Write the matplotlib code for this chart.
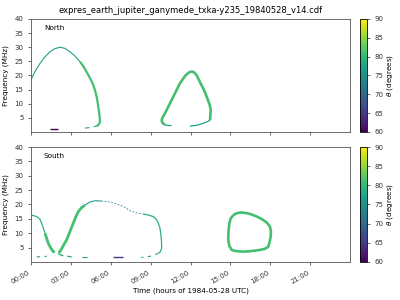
import numpy as np
import matplotlib
matplotlib.use("Agg")
import matplotlib.pyplot as plt
from matplotlib import cm, colors

# curves: time (hours UTC), frequency (MHz), theta (deg)
north_arc1_t = [0.0, 0.35, 0.68, 1.05, 1.43, 1.8, 2.18, 2.55, 2.93, 3.3, 3.69]
north_arc1_f = [18.6, 21.8, 24.3, 26.6, 28.4, 29.5, 30.0, 29.6, 28.4, 26.9, 24.9]
north_arc1_theta = 77
north_arc2_t = [3.69, 4.0, 4.31, 4.6, 4.81, 4.96, 5.06, 5.15, 5.19, 5.1, 4.94]
north_arc2_f = [24.9, 22.8, 20.2, 17.6, 14.9, 12.0, 9.0, 6.2, 3.7, 2.6, 2.1]
north_arc2_theta = 81
north_tail_t = [4.06, 4.31, 4.6, 4.94]
north_tail_f = [1.4, 1.5, 1.8, 2.1]
north_tail_theta = 77
north_low_t = [1.43, 2.05]
north_low_f = [1.2, 1.2]
north_low_theta = 60

north_loop_t = [10.08, 9.88, 9.83, 9.92, 10.08, 10.58, 11.2, 11.6, 11.85, 12.05,
                12.25, 12.45, 12.7, 13.0, 13.22, 13.45, 13.52, 13.47]
north_loop_f = [2.5, 3.3, 4.2, 5.4, 6.6, 11.3, 17.2, 19.9, 21.0, 21.4,
                21.2, 20.2, 17.8, 15.0, 12.5, 9.5, 7.8, 4.2]
north_loop_theta = 81
north_loop_bl_t = [10.08, 10.3, 10.58]
north_loop_bl_f = [2.5, 2.3, 2.3]
north_loop_br_t = [11.96, 12.5, 12.96, 13.25, 13.47]
north_loop_br_f = [2.1, 2.4, 3.1, 3.6, 4.2]
north_loop_low_theta = 77

south_a_t = [0.0, 0.3, 0.5, 0.68, 0.8, 0.93, 1.05]
south_a_f = [16.3, 16.0, 15.6, 14.8, 13.5, 11.8, 10.0]
south_a_theta = 79
south_a2_t = [1.05, 1.18, 1.3, 1.48, 1.68, 1.8]
south_a2_f = [10.0, 8.2, 6.5, 4.9, 3.6, 3.4]
south_a2_theta = 81
south_a_low_t = [0.43, 0.8, 1.18]
south_a_low_f = [1.8, 1.8, 2.0]
south_a_low_theta = 77

south_b_t = [2.05, 2.18, 2.42, 2.68, 2.93, 3.18, 3.38, 3.56, 3.8, 4.06]
south_b_f = [3.4, 3.6, 5.6, 7.7, 10.6, 13.5, 15.8, 17.5, 18.9, 19.8]
south_b_theta = 81
south_b_mid_t = [4.06, 4.4, 4.81, 5.3]
south_b_mid_f = [19.8, 20.8, 21.3, 21.2]
south_b_mid_theta = 76
south_b_top_t = [5.3, 5.9, 6.45, 7.0, 7.45, 8.0, 8.45]
south_b_top_f = [21.2, 20.9, 20.2, 19.2, 17.8, 17.0, 16.7]
south_b_top_theta = 73
south_b_right_t = [8.45, 8.85, 9.2, 9.42, 9.58, 9.7, 9.76, 9.82, 9.83, 9.7, 9.58]
south_b_right_f = [16.7, 16.3, 15.8, 14.9, 13.5, 11.8, 10.0, 7.0, 4.8, 3.4, 3.0]
south_b_right_theta = 79
south_b_rlow_t = [9.58, 9.08, 8.6, 8.3]
south_b_rlow_f = [3.0, 2.1, 1.7, 1.6]
south_b_rlow_theta = 77
south_b_low_t = [2.05, 2.3, 2.7, 3.06]
south_b_low_f = [3.0, 2.3, 2.0, 1.8]
south_b_low_theta = 79
south_dash_t = [3.8, 4.2]
south_dash_f = [1.6, 1.6]
south_dash_theta = 76
south_purple_t = [6.2, 6.9]
south_purple_f = [1.6, 1.6]
south_purple_theta = 65

south_loop_t = [15.22, 15.45, 15.72, 16.1, 16.48, 17.0, 17.48, 17.78, 17.98, 18.05,
                18.03, 17.95, 17.85, 17.6, 17.23, 16.6, 15.97, 15.4, 15.1, 14.92,
                14.84, 14.86, 14.92, 15.03, 15.22]
south_loop_f = [16.3, 16.9, 17.2, 17.1, 16.7, 15.8, 14.6, 13.5, 12.3, 10.6,
                8.8, 6.9, 5.3, 4.6, 4.2, 3.8, 3.6, 3.8, 4.2, 5.6,
                7.7, 10.6, 13.5, 15.2, 16.3]
south_loop_theta = 81

north_curves = [
    (north_arc1_t, north_arc1_f, north_arc1_theta, 0.8, '-'),
    (north_arc2_t, north_arc2_f, north_arc2_theta, 1.6, '-'),
    (north_tail_t, north_tail_f, north_tail_theta, 0.8, (0, (4, 4))),
    (north_low_t, north_low_f, north_low_theta, 1.0, '-'),
    (north_loop_t, north_loop_f, north_loop_theta, 1.9, '-'),
    (north_loop_bl_t, north_loop_bl_f, north_loop_low_theta, 0.9, '-'),
    (north_loop_br_t, north_loop_br_f, north_loop_low_theta, 0.9, '-'),
]
south_curves = [
    (south_a_t, south_a_f, south_a_theta, 0.9, '-'),
    (south_a2_t, south_a2_f, south_a2_theta, 2.0, '-'),
    (south_a_low_t, south_a_low_f, south_a_low_theta, 0.8, (0, (3, 4))),
    (south_b_t, south_b_f, south_b_theta, 2.0, '-'),
    (south_b_mid_t, south_b_mid_f, south_b_mid_theta, 0.8, '-'),
    (south_b_top_t, south_b_top_f, south_b_top_theta, 0.6, (0, (2, 2))),
    (south_b_right_t, south_b_right_f, south_b_right_theta, 0.9, '-'),
    (south_b_rlow_t, south_b_rlow_f, south_b_rlow_theta, 0.8, (0, (3, 4))),
    (south_b_low_t, south_b_low_f, south_b_low_theta, 1.0, (0, (4, 3))),
    (south_dash_t, south_dash_f, south_dash_theta, 0.8, '-'),
    (south_purple_t, south_purple_f, south_purple_theta, 1.0, '-'),
    (south_loop_t, south_loop_f, south_loop_theta, 1.9, '-'),
]

xticks = [0, 3, 6, 9, 12, 15, 18, 21]
xlabels = ['00:00', '03:00', '06:00', '09:00', '12:00', '15:00', '18:00', '21:00']
yticks = [5, 10, 15, 20, 25, 30, 35, 40]

norm = colors.Normalize(vmin=60, vmax=90)
cmap = plt.get_cmap('viridis')

fig = plt.figure(figsize=(4, 3), dpi=100)
ax_n = fig.add_axes([0.0775, 0.56, 0.7975, 0.3767])
ax_s = fig.add_axes([0.0775, 0.1267, 0.7975, 0.3833])
cax_n = fig.add_axes([0.9, 0.56, 0.0175, 0.3767])
cax_s = fig.add_axes([0.9, 0.1267, 0.0175, 0.3833])

for ax, curves, name in [(ax_n, north_curves, 'North'), (ax_s, south_curves, 'South')]:
    for t, f, th, lw, ls in curves:
        ax.plot(t, f, color=cmap(norm(th)), lw=lw, ls=ls, solid_capstyle='butt',
                solid_joinstyle='round')
    ax.set_xlim(0, 24)
    ax.set_ylim(0, 40)
    ax.set_yticks(yticks)
    ax.set_xticks(xticks)
    ax.tick_params(labelsize=5, length=2, width=0.5, colors='#333333')
    for sp in ax.spines.values():
        sp.set_linewidth(0.6)
        sp.set_color('#555555')
    ax.set_ylabel('Frequency (MHz)', fontsize=5.2, labelpad=4)
    ax.text(0.04, 0.9, name, transform=ax.transAxes, fontsize=5.2)

ax_n.set_xticklabels([])
ax_s.set_xticklabels(xlabels, rotation=30, ha='right')
ax_s.set_xlabel('Time (hours of 1984-05-28 UTC)', fontsize=5.2, labelpad=2)
ax_n.set_title('expres_earth_jupiter_ganymede_txka-y235_19840528_v14.cdf', fontsize=6, pad=4)

sm = cm.ScalarMappable(norm=norm, cmap=cmap)
for cax in [cax_n, cax_s]:
    cb = fig.colorbar(sm, cax=cax, ticks=[60, 65, 70, 75, 80, 85, 90])
    cb.ax.tick_params(labelsize=5, length=2, width=0.5, colors='#333333')
    cb.outline.set_linewidth(0.6)
    cb.set_label(r'$\theta$ (degrees)', fontsize=5.2, labelpad=1)

fig.savefig('out.png', dpi=100)
